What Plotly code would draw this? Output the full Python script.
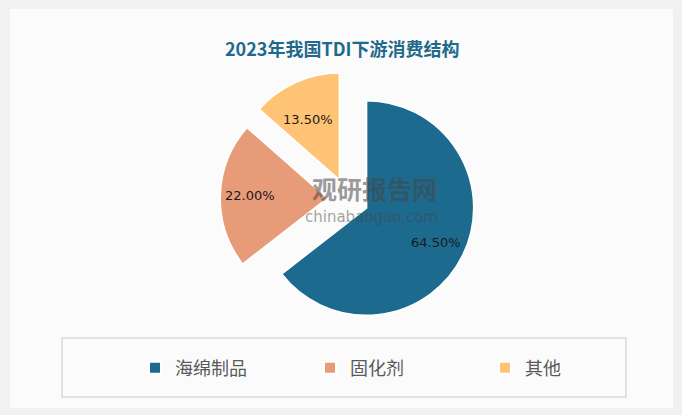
import math
import plotly.graph_objects as go

categories = ["海绵制品", "固化剂", "其他"]
values = [64.5, 22.0, 13.5]
colors = ["#1c6a8e", "#e89b79", "#fec375"]
title_text = "2023年我国TDI下游消费结构"

W, H = 682, 415
pull = 0.19
# pie domain in pixels
cx, cy = 348, 199
outer = 128
r = outer / (1 + pull)

fig = go.Figure()
fig.add_trace(go.Pie(
    labels=categories, values=values, sort=False, direction="clockwise",
    rotation=0, pull=[pull] * len(values),
    marker=dict(colors=colors, line=dict(color="white", width=2)),
    textinfo="none", hoverinfo="label+percent",
    domain=dict(x=[(cx - outer) / W, (cx + outer) / W],
                y=[1 - (cy + outer) / H, 1 - (cy - outer) / H]),
))

# data labels computed from the data
total = sum(values)
annotations = []
cum = 0
for v in values:
    mid = (cum + v / 2) / total * 2 * math.pi
    cum += v
    d = (pull + 0.72) * r
    px = cx + d * math.sin(mid)
    py = cy - d * math.cos(mid)
    annotations.append(dict(
        x=px / W, y=1 - py / H, xref="paper", yref="paper",
        text=f"{v / total * 100:.2f}%", showarrow=False,
        font=dict(family="DejaVu Sans", size=13, color="#1a1a1a")))

# title
annotations.append(dict(
    x=342 / W, y=1 - 33 / H, xref="paper", yref="paper",
    text=f"<b>{title_text}</b>", showarrow=False,
    font=dict(family="Noto Sans CJK SC", size=18, color="#1f6a8c")))

# watermark
annotations.append(dict(
    x=375 / W, y=1 - 188 / H, xref="paper", yref="paper",
    text="<b>观研报告网</b>", showarrow=False,
    font=dict(family="Noto Sans CJK SC", size=25, color="rgba(70,70,70,0.55)")))
annotations.append(dict(
    x=371 / W, y=1 - 217 / H, xref="paper", yref="paper",
    text="chinabaogao.com", showarrow=False,
    font=dict(family="DejaVu Sans", size=15, color="rgba(70,70,70,0.5)")))

shapes = [
    dict(type="rect", xref="paper", yref="paper",
         x0=10 / W, x1=673 / W, y0=1 - 408 / H, y1=1 - 9 / H,
         fillcolor="#fbfbfb", line=dict(width=0), layer="below"),
    dict(type="rect", xref="paper", yref="paper",
         x0=62 / W, x1=626 / W, y0=1 - 397 / H, y1=1 - 338 / H,
         fillcolor="rgba(0,0,0,0)", line=dict(color="#d9d9d9", width=1.5), layer="below"),
]

fig.update_layout(
    width=W, height=H,
    margin=dict(l=0, r=0, t=0, b=0),
    paper_bgcolor="#f1f1f1",
    plot_bgcolor="rgba(0,0,0,0)",
    showlegend=True,
    legend=dict(orientation="h", x=135 / W, y=1 - 368 / H, xanchor="left", yanchor="middle",
                font=dict(family="Noto Sans CJK SC", size=18, color="#595959"),
                bgcolor="rgba(0,0,0,0)", entrywidth=130, entrywidthmode="pixels",
                itemclick=False),
    annotations=annotations,
    shapes=shapes,
)

fig.write_html("out.html")
